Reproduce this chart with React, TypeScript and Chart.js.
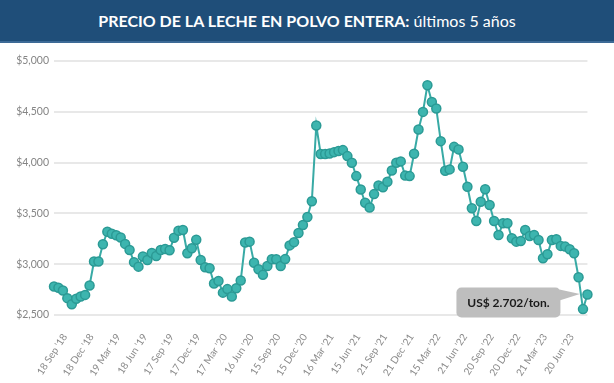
import React, { useEffect, useRef } from 'react';
import { Chart, registerables } from 'chart.js';

Chart.register(...registerables);

// ---- data ----
const TICK_LABELS = [
  "18 Sep '18", "18 Dec '18", "19 Mar '19", "18 Jun '19", "17 Sep '19",
  "17 Dec '19", "17 Mar '20", "16 Jun '20", "15 Sep '20", "15 Dec '20",
  "16 Mar '21", "15 Jun '21", "21 Sep '21", "21 Dec '21", "15 Mar '22",
  "21 Jun '22", "20 Sep '22", "20 Dec '22", "21 Mar '23", "20 Jun '23",
];
const FIRST_TICK_INDEX = 3;
const TICK_EVERY = 6;

const PRICES = [
  2780, 2768, 2741, 2666, 2605, 2660, 2682, 2698, 2790, 3026,
  3026, 3196, 3320, 3300, 3285, 3262, 3200, 3140, 3020, 2976,
  3075, 3042, 3110, 3080, 3140, 3150, 3137, 3260, 3330, 3337,
  3108, 3157, 3240, 3042, 2970, 2960, 2810, 2834, 2720, 2755,
  2682, 2764, 2839, 3214, 3222, 3015, 2950, 2895, 2983, 3049,
  3049, 2983, 3050, 3185, 3217, 3307, 3386, 3465, 3620, 4365,
  4085, 4085, 4090, 4103, 4115, 4123, 4064, 3998, 3867, 3735,
  3605, 3558, 3690, 3775, 3757, 3811, 3922, 3998, 4012, 3872,
  3867, 4087, 4326, 4499, 4761, 4597, 4532, 4211, 3919, 3933,
  4155, 4130, 3959, 3762, 3550, 3425, 3615, 3737, 3583, 3425,
  3288, 3403, 3403, 3255, 3222, 3229, 3337, 3278, 3288, 3239,
  3059, 3098, 3239, 3245, 3180, 3173, 3147, 3108, 2872, 2558,
  2702,
];

const Y_MIN = 2500;
const Y_MAX = 5000;
const Y_STEP = 500;

const TITLE_BOLD = 'PRECIO DE LA LECHE EN POLVO ENTERA:';
const TITLE_REST = ' últimos 5 años';
const LAST_LABEL = 'US$ 2.702/ton.';

const CATEGORIES = PRICES.map((_, i) => {
  const k = (i - FIRST_TICK_INDEX) / TICK_EVERY;
  return i >= FIRST_TICK_INDEX && Number.isInteger(k) && k < TICK_LABELS.length
    ? TICK_LABELS[k]
    : '';
});

const calloutPlugin = {
  id: 'callout',
  afterDraw(chart: any) {
    const meta = chart.getDatasetMeta(0);
    const pt = meta.data[meta.data.length - 1];
    if (!pt) return;
    const ctx = chart.ctx;
    const w = 104;
    const h = 30;
    const right = pt.x - 27;
    const left = right - w;
    const top = pt.y - 7;
    ctx.save();
    ctx.fillStyle = '#bebebe';
    ctx.beginPath();
    ctx.roundRect(left, top, w, h, 5);
    ctx.fill();
    ctx.beginPath();
    ctx.moveTo(right - 1, top + 2);
    ctx.lineTo(pt.x - 7.5, pt.y - 0.5);
    ctx.lineTo(right - 1, top + 13);
    ctx.closePath();
    ctx.fill();
    ctx.fillStyle = '#1a1a1a';
    ctx.font = 'bold 12px Lato';
    ctx.textAlign = 'center';
    ctx.textBaseline = 'middle';
    ctx.fillText(LAST_LABEL, left + w / 2, top + h / 2 + 0.5);
    ctx.restore();
  },
};

export default function App() {
  const canvasRef = useRef<HTMLCanvasElement | null>(null);

  useEffect(() => {
    document.body.style.margin = '0';
    const canvas = canvasRef.current;
    if (!canvas) return;
    const chart = new Chart(canvas, {
      type: 'line',
      data: {
        labels: CATEGORIES,
        datasets: [
          {
            data: PRICES,
            borderColor: '#38aaa5',
            borderWidth: 2,
            backgroundColor: '#3db5af',
            pointBackgroundColor: '#3db5af',
            pointBorderColor: '#2b9a95',
            pointBorderWidth: 1.5,
            pointRadius: 4.5,
            tension: 0,
            clip: false as any,
          },
        ],
      },
      plugins: [calloutPlugin],
      options: {
        animation: false,
        responsive: false,
        devicePixelRatio: 1,
        layout: { padding: { top: 18, right: 24, left: 0, bottom: 0 } },
        plugins: {
          legend: { display: false },
          tooltip: { enabled: false },
          title: { display: false },
        },
        scales: {
          x: {
            type: 'category',
            offset: false,
            grid: { display: false, drawTicks: false },
            border: { display: false },
            ticks: {
              autoSkip: false,
              minRotation: 57,
              maxRotation: 57,
              padding: 16.5,
              labelOffset: -2.5,
              color: '#8a8a8a',
              font: { family: 'Lato', size: 10 },
            },
            afterFit(scale: any) {
              scale.height = 68;
            },
          },
          y: {
            min: Y_MIN,
            max: Y_MAX,
            grid: { color: '#e8e8e8', lineWidth: 2, drawTicks: false },
            border: { display: false },
            ticks: {
              stepSize: Y_STEP,
              padding: 5,
              color: '#858585',
              font: { family: 'Lato', size: 10.5 },
              callback: (v: any) => '$' + Number(v).toLocaleString('en-US'),
            },
            afterFit(scale: any) {
              scale.width = 54;
            },
          },
        },
      },
    });
    return () => chart.destroy();
  }, []);

  return (
    <div style={{ position: 'fixed', left: 0, top: 0, width: 614, height: 383, background: '#fff', overflow: 'hidden' }}>
      <div
        style={{
          position: 'absolute', left: 0, top: 0, width: 614, height: 41,
          background: '#1f4e79', borderBottom: '2px solid #3d6a96',
          color: '#fff', textAlign: 'center', lineHeight: '41px',
          fontFamily: 'Lato, sans-serif', fontSize: 16,
        }}
      >
        <span style={{ fontWeight: 700 }}>{TITLE_BOLD}</span>
        <span style={{ fontWeight: 400 }}>{TITLE_REST}</span>
      </div>
      <canvas
        ref={canvasRef}
        width={614}
        height={340}
        style={{ position: 'absolute', left: 0, top: 43, width: 614, height: 340 }}
      />
    </div>
  );
}
